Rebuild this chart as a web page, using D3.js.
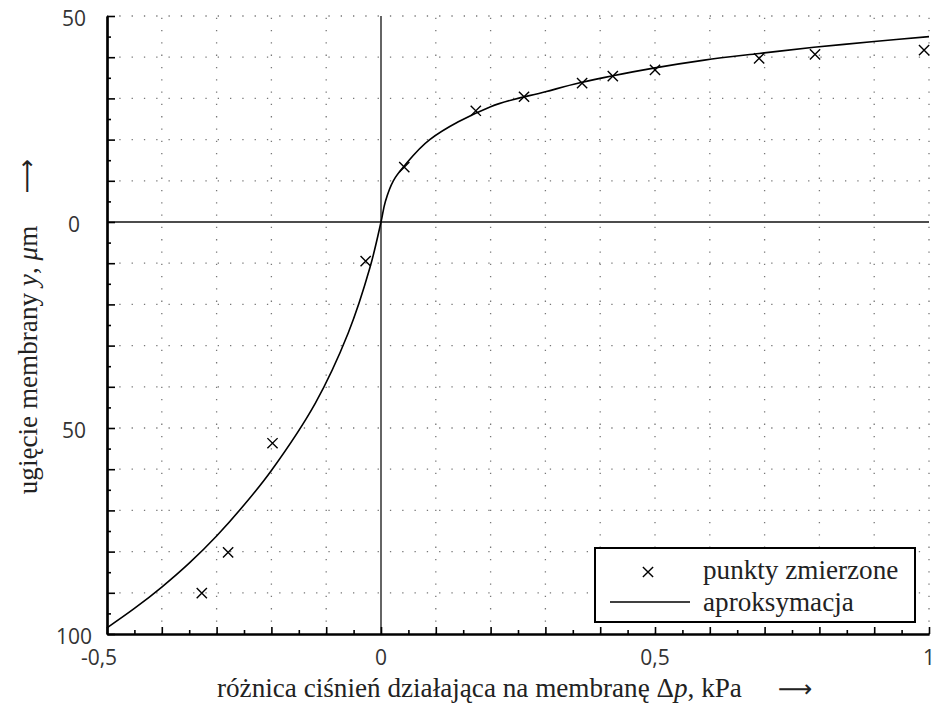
<!DOCTYPE html>
<html><head><meta charset="utf-8">
<script src="https://cdn.jsdelivr.net/npm/d3@7"></script>
<style>
html,body{margin:0;padding:0;background:#fff;}
svg{display:block;}
.serif{font-family:"Liberation Serif","DejaVu Serif",serif;}
.sans{font-family:"Open Sans","DejaVu Sans",sans-serif;}
.arrow{font-family:"DejaVu Sans",sans-serif;}
</style></head>
<body>
<svg id="chart" width="936" height="711"></svg>
<script>
// ---- data ----
const measuredX = [-0.327, -0.279, -0.198, -0.028, 0.0425, 0.173, 0.261, 0.367, 0.423, 0.50, 0.690, 0.792, 0.991];
const measuredY = [-90.1, -80.2, -53.7, -9.5, 13.3, 27.0, 30.4, 33.7, 35.4, 36.9, 39.7, 40.7, 41.7];

const fitX = [-0.5, -0.45, -0.4, -0.35, -0.3, -0.25, -0.2, -0.12, -0.06, -0.02, 0, 0.008, 0.0225, 0.0425, 0.089, 0.2, 0.3, 0.363, 0.5, 0.59, 0.69, 0.79, 0.9, 1.0];
const fitY = [-98.5, -93.8, -88.6, -82.8, -76.2, -68.7, -60.3, -44, -27, -11, 0, 5, 10, 13.6, 20, 28.0, 31.6, 33.8, 37.4, 39.3, 40.9, 42.4, 43.8, 45.0];

const xTickValues = [-0.5, 0, 0.5, 1];
const xTickLabels = ["-0,5", "0", "0,5", "1"];
const yTickValues = [50, 0, -50, -100];
const yTickLabels = ["50", "0", "50", "100"];

const xMajor = [-0.5,-0.4,-0.3,-0.2,-0.1,0,0.1,0.2,0.3,0.4,0.5,0.6,0.7,0.8,0.9,1.0];
const xMinor = [-0.45,-0.35,-0.25,-0.15,-0.05,0.05,0.15,0.25,0.35,0.45,0.55,0.65,0.75,0.85,0.95];
const yMajor = [-100,-90,-80,-70,-60,-50,-40,-30,-20,-10,0,10,20,30,40,50];
const yMinor = [-95,-85,-75,-65,-55,-45,-35,-25,-15,-5,5,15,25,35,45];

const legendLabels = ["punkty zmierzone", "aproksymacja"];

// ---- layout ----
const svg = d3.select("#chart");
const x = d3.scaleLinear().domain([-0.5, 1]).range([107, 929]);
const y = d3.scaleLinear().domain([-100, 50]).range([634, 16]);

function fitWidth(sel, target) {
  const n = sel.node();
  const fs = parseFloat(sel.style("font-size"));
  const w = n.getComputedTextLength();
  if (w > 0) sel.style("font-size", (fs * target / w).toFixed(2) + "px");
}

// grid (dotted)
const grid = svg.append("g");
grid.selectAll("line.gx").data(xMajor.filter(d => Math.abs(d) > 1e-9 && d > -0.45))
  .join("line")
  .attr("x1", d => x(d)).attr("x2", d => x(d))
  .attr("y1", y(-100)).attr("y2", y(50))
  .attr("stroke", "#777").attr("stroke-width", 1.3)
  .attr("stroke-dasharray", "1.3 11");
grid.selectAll("line.gy").data(yMajor.filter(d => d !== 0 && d > -95))
  .join("line")
  .attr("x1", x(-0.5)).attr("x2", x(1))
  .attr("y1", d => y(d)).attr("y2", d => y(d))
  .attr("stroke", "#777").attr("stroke-width", 1.3)
  .attr("stroke-dasharray", "1.3 11");

// zero lines
svg.append("line").attr("x1", x(0)).attr("x2", x(0)).attr("y1", y(-100)).attr("y2", y(50))
  .attr("stroke", "#111").attr("stroke-width", 1.3);
svg.append("line").attr("x1", x(-0.5)).attr("x2", x(1)).attr("y1", y(0)).attr("y2", y(0))
  .attr("stroke", "#111").attr("stroke-width", 1.3);

// axes
const axB = svg.append("g").attr("transform", `translate(0,${y(-100)})`);
axB.call(d3.axisBottom(x).tickValues(xMajor).tickSize(-7).tickSizeOuter(0).tickFormat(""));
const axBm = svg.append("g").attr("transform", `translate(0,${y(-100)})`);
axBm.call(d3.axisBottom(x).tickValues(xMinor).tickSize(-4).tickSizeOuter(0).tickFormat(""));
const axL = svg.append("g").attr("transform", `translate(${x(-0.5)},0)`);
axL.call(d3.axisLeft(y).tickValues(yMajor).tickSize(-8).tickSizeOuter(0).tickFormat(""));
const axLm = svg.append("g").attr("transform", `translate(${x(-0.5)},0)`);
axLm.call(d3.axisLeft(y).tickValues(yMinor).tickSize(-4).tickSizeOuter(0).tickFormat(""));
[axB, axBm, axL, axLm].forEach(g => {
  g.selectAll("line").attr("stroke", "#000").attr("stroke-width", 1.6);
  g.select(".domain").attr("stroke", "#000").attr("stroke-width", 2.2);
});

// tick labels
svg.append("g").selectAll("text").data(xTickValues).join("text")
  .attr("class", "sans")
  .attr("x", (d) => x(d) + (d < 0 ? -8 : 0))
  .attr("y", y(-100) + 31)
  .attr("text-anchor", "middle")
  .style("font-size", "21px").attr("fill", "#333")
  .text((d, i) => xTickLabels[i]);
svg.append("g").selectAll("text").data(yTickValues).join("text")
  .attr("class", "sans")
  .attr("x", 74)
  .attr("y", d => y(d) + 10)
  .attr("text-anchor", "middle")
  .style("font-size", "21px").attr("fill", "#333")
  .text((d, i) => yTickLabels[i]);

// fitted curve
const fitData = fitX.map((d, i) => [d, fitY[i]]);
svg.append("path").datum(fitData)
  .attr("fill", "none").attr("stroke", "#000").attr("stroke-width", 1.6)
  .attr("d", d3.line().x(d => x(d[0])).y(d => y(d[1])).curve(d3.curveCatmullRom.alpha(0.5)));

// measured points (x markers)
const cross = d3.symbol().type(d3.symbolX).size(70);
svg.append("g").selectAll("path").data(measuredX.map((d, i) => [d, measuredY[i]]))
  .join("path")
  .attr("transform", d => `translate(${x(d[0])},${y(d[1])})`)
  .attr("d", cross)
  .attr("fill", "none").attr("stroke", "#000").attr("stroke-width", 1.4);

// axis titles
const xt = svg.append("text").attr("class", "serif").attr("x", 217).attr("y", 697)
  .style("font-size", "27px").attr("fill", "#222");
xt.append("tspan").text("różnica ciśnień działająca na membranę Δ");
xt.append("tspan").style("font-style", "italic").text("p");
xt.append("tspan").text(", kPa");
fitWidth(xt, 525);
const titleSize = xt.style("font-size");
svg.append("text").attr("class", "arrow").attr("x", 778).attr("y", 697)
  .style("font-size", "24px").attr("fill", "#222")
  .text("⟶");

const yt = svg.append("text").attr("class", "serif").attr("transform", "translate(37,360) rotate(-90)")
  .attr("text-anchor", "middle")
  .style("font-size", titleSize).attr("fill", "#222");
yt.append("tspan").text("ugięcie membrany ");
yt.append("tspan").style("font-style", "italic").text("y");
yt.append("tspan").text(", ");
yt.append("tspan").style("font-style", "italic").text("μ");
yt.append("tspan").text("m");
svg.append("text").attr("class", "arrow").attr("transform", "translate(35,176) rotate(-90)")
  .attr("text-anchor", "middle")
  .style("font-size", "24px").attr("fill", "#222")
  .text("⟶");

// legend
const lg = svg.append("g");
lg.append("rect").attr("x", 595).attr("y", 548).attr("width", 320).attr("height", 74)
  .attr("fill", "#fff").attr("stroke", "#000").attr("stroke-width", 2);
lg.append("path").attr("transform", "translate(648,572)").attr("d", cross)
  .attr("fill", "none").attr("stroke", "#000").attr("stroke-width", 1.4);
lg.append("line").attr("x1", 610).attr("x2", 690).attr("y1", 602).attr("y2", 602)
  .attr("stroke", "#000").attr("stroke-width", 1.6);
lg.selectAll("text").data(legendLabels).join("text")
  .attr("class", "serif")
  .attr("x", 703).attr("y", (d, i) => 579 + i * 32)
  .style("font-size", titleSize).attr("fill", "#222")
  .text(d => d);
</script>
</body></html>
